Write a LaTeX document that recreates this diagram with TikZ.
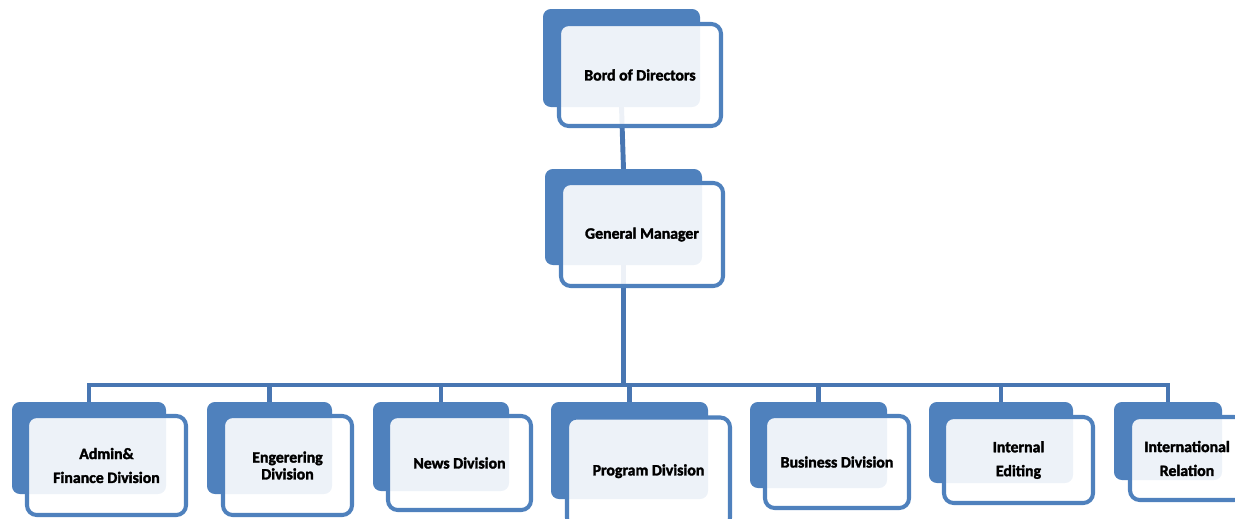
\documentclass[tikz,border=0pt]{standalone}
\usepackage{fontspec}
\setmainfont{Carlito}[BoldFeatures={FakeBold=2}]
\usetikzlibrary{backgrounds}
\definecolor{boxblue}{HTML}{4F81BD}
\definecolor{linkblue}{HTML}{4876B2}
\newcommand{\px}{0.02cm}
\tikzset{
  backbox/.style={fill=boxblue, rounded corners=4.5pt, inner sep=0pt, outer sep=0pt},
  frontbox/.style={draw=boxblue, line width=2.3pt, fill=white, fill opacity=0.9, text opacity=1,
    rounded corners=5.5pt, inner sep=0pt, outer sep=0pt, align=center,
    font=\bfseries\fontsize{9}{13.6}\selectfont},
  link/.style={draw=linkblue, line width=2.8pt}
}
\begin{document}
\begin{tikzpicture}[x=\px, y=-\px]
\useasboundingbox (0,0) rectangle (1235,518);

\node[backbox, minimum width=157*\px, minimum height=98*\px] (bd-b) at (621.5,58) {};
\node[frontbox, minimum width=162*\px, minimum height=102*\px] (bd) at (640,75) {Bord of Directors};

\node[backbox, minimum width=157*\px, minimum height=96*\px] (gm-b) at (623.5,217) {};
\node[frontbox, minimum width=162*\px, minimum height=103*\px] (gm) at (642,234.5) {General Manager};

\node[backbox, minimum width=154*\px, minimum height=92*\px] (adm-b) at (89,448) {};
\node[frontbox, minimum width=159*\px, minimum height=99*\px] (adm) at (106.5,465.5) {Admin\&\\Finance Division};

\node[backbox, minimum width=125*\px, minimum height=92*\px] (eng-b) at (269.5,448) {};
\node[frontbox, minimum width=129*\px, minimum height=99*\px, font=\bfseries\fontsize{9}{9.6}\selectfont] (eng) at (287.5,465.5) {Engerering\\Division};

\node[backbox, minimum width=136*\px, minimum height=89*\px] (news-b) at (441,446.5) {};
\node[frontbox, minimum width=143*\px, minimum height=94*\px] (news) at (459.5,463) {News Division};

\node[backbox, minimum width=157*\px, minimum height=97*\px] (prog-b) at (629.5,450.5) {};
\node[frontbox, minimum width=163*\px, minimum height=110*\px] (prog) at (648.5,472.5) {\raisebox{3pt}{Program Division}};

\node[backbox, minimum width=137*\px, minimum height=86*\px] (bus-b) at (818.5,445) {};
\node[frontbox, minimum width=144*\px, minimum height=92*\px] (busi) at (837,462) {Business Division};

\node[backbox, minimum width=144*\px, minimum height=81*\px] (int-b) at (1001,442.5) {};
\node[frontbox, minimum width=149*\px, minimum height=86*\px] (int) at (1018.5,460) {Internal\\Editing};

\node[backbox, minimum width=108*\px, minimum height=78*\px] (rel-b) at (1168,441) {};
\node[frontbox, minimum width=114*\px, minimum height=83*\px] (rel) at (1187,458.5) {International\\Relation};

\begin{pgfonlayer}{background}
\coordinate (bar) at (gm-b.south |- 0,385);
\draw[link] (bd-b.south) -- (gm-b.north);
\draw[link] (gm-b.south) -- (bar);
\draw[link] (bar) -| (adm-b.north);
\draw[link] (bar) -| (eng-b.north);
\draw[link] (bar) -| (news-b.north);
\draw[link] (bar) -| (prog-b.north);
\draw[link] (bar) -| (bus-b.north);
\draw[link] (bar) -| (int-b.north);
\draw[link] (bar) -| (rel-b.north);
\end{pgfonlayer}
\end{tikzpicture}
\end{document}
